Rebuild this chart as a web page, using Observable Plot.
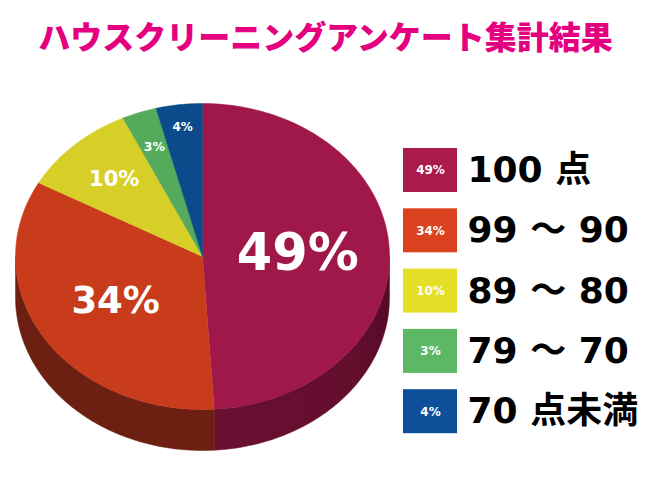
<!DOCTYPE html>
<html><head><meta charset="utf-8">
<script src="https://cdn.jsdelivr.net/npm/d3@7"></script>
<script src="https://cdn.jsdelivr.net/npm/@observablehq/plot@0.6"></script>
<style>body{margin:0;background:#fff}</style>
</head><body><div id="chart"></div>
<script>
// ---- data ----
const title = "ハウスクリーニングアンケート集計結果";
const categories = ["100 点", "99 ～ 90", "89 ～ 80", "79 ～ 70", "70 点未満"];
const percents = [49, 34, 10, 3, 4];

// ---- styles ----
const topColors = ["#a0174a", "#c83c1c", "#d7cf28", "#55ab5b", "#0b4a8b"];
const sideColors = ["url(#side0)", "#6d1f11", "#6f6a14", "#2c5a30", "#062648"];
const legendColors = ["#aa1a4d", "#db4320", "#e5de26", "#5db866", "#0d4f99"];
const labelFont = [51, 37, 21, 12.5, 12];
const labelRadius = [0.51, 0.55, 0.69, 0.76, 0.85];

const W = 650, H = 480;
const pie = {cx: 202, cy: 256, rx: 187, ry: 153, depth: 41};
const arcs = d3.pie().sort(null).value(d => d)(percents);
const pt = (a, dy = 0, f = 1) => ({x: pie.cx + f * pie.rx * Math.sin(a), y: pie.cy - f * pie.ry * Math.cos(a) + dy});
function arcPts(a0, a1, dy) {
  const n = Math.max(2, Math.ceil((a1 - a0) / (Math.PI / 180)));
  return d3.range(n + 1).map(i => pt(a0 + (a1 - a0) * i / n, dy));
}
const topRows = arcs.flatMap((a, i) =>
  [{x: pie.cx, y: pie.cy}, ...arcPts(a.startAngle, a.endAngle, 0)].map(p => ({...p, k: i})));
const sideRows = arcs.flatMap((a, i) => {
  const s = Math.max(a.startAngle, Math.PI / 2), e = Math.min(a.endAngle, 3 * Math.PI / 2);
  if (s >= e) return [];
  return [...arcPts(s, e, 0), ...arcPts(s, e, pie.depth).reverse()].map(p => ({...p, k: i}));
});
const pieLabels = arcs.map((a, i) => ({...pt((a.startAngle + a.endAngle) / 2, 0, labelRadius[i]), text: percents[i] + "%", i}));

const legendRows = categories.map((c, i) => ({c, i, p: percents[i] + "%", cy: 170 + 60.3 * i}));
const legendBox = {x1: 403, x2: 457, h: 44, textX: 467};

const chart = Plot.plot({
  width: W, height: H,
  margin: 0,
  x: {domain: [0, W], range: [0, W], axis: null},
  y: {domain: [0, H], range: [0, H], axis: null},
  color: {type: "identity"},
  style: {background: "#fff"},
  marks: [
    Plot.text([title], {x: () => W / 2, y: () => 38, text: d => d, fill: "#e4007f", fontSize: 32, fontWeight: 900,
      fontFamily: "Noto Sans CJK JP", textAnchor: "middle", ariaLabel: "title"}),
    Plot.line(sideRows, {x: "x", y: "y", z: "k", fill: d => sideColors[d.k], stroke: d => sideColors[d.k], strokeWidth: 0.5, curve: "linear-closed"}),
    Plot.line(topRows, {x: "x", y: "y", z: "k", fill: d => topColors[d.k], stroke: d => topColors[d.k], strokeWidth: 0.5, curve: "linear-closed"}),
    Plot.text(pieLabels, {x: "x", y: "y", text: "text", fill: "white", fontSize: d => labelFont[d.i], fontWeight: "bold",
      fontFamily: "DejaVu Sans"}),
    Plot.rect(legendRows, {x1: () => legendBox.x1, x2: () => legendBox.x2, y1: d => d.cy - legendBox.h / 2, y2: d => d.cy + legendBox.h / 2,
      fill: d => legendColors[d.i]}),
    Plot.text(legendRows, {x: () => (legendBox.x1 + legendBox.x2) / 2, y: "cy", text: "p", fill: "white", fontSize: 12, fontWeight: "bold", fontFamily: "DejaVu Sans"}),
    Plot.text(legendRows, {x: () => legendBox.textX, y: "cy", text: "c", fill: "#000", fontSize: 36, fontWeight: "bold", textAnchor: "start",
      fontFamily: "DejaVu Sans, Noto Sans CJK JP"})
  ]
});

// gradient for the dark side of the largest slice
const svg = d3.select(chart);
const defs = svg.insert("defs", ":first-child");
const g = defs.append("linearGradient").attr("id", "side0").attr("x1", 0).attr("x2", 1).attr("y1", 0).attr("y2", 0);
g.append("stop").attr("offset", "0%").attr("stop-color", "#6a0f31");
g.append("stop").attr("offset", "80%").attr("stop-color", "#640e2e");
g.append("stop").attr("offset", "100%").attr("stop-color", "#560a27");
svg.selectAll('g[aria-label="title"] text').attr("textLength", 550).attr("lengthAdjust", "spacingAndGlyphs");

document.getElementById("chart").append(chart);
</script>
</body></html>
